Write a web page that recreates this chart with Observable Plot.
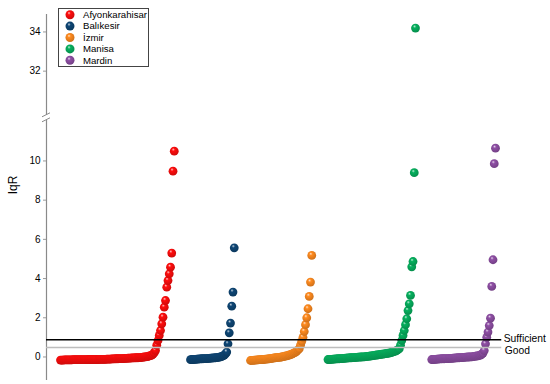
<!DOCTYPE html>
<html>
<head>
<meta charset="utf-8">
<script src="https://cdn.jsdelivr.net/npm/d3@7"></script>
<script src="https://cdn.jsdelivr.net/npm/@observablehq/plot@0.6"></script>
<style>
  html, body { margin: 0; padding: 0; background: #fff; }
  #chart { width: 550px; height: 384px; }
</style>
</head>
<body>
<div id="chart"></div>
<script>
// ---------- data ----------
const categories = ["Afyonkarahisar", "Balıkesir", "İzmir", "Manisa", "Mardin"];
const colors = ["#ff0d0d", "#0e4675", "#ff8b1f", "#06b05e", "#8f4fa5"];

const afyonkarahisar = [
  -0.16,-0.16,-0.16,-0.15,-0.15,-0.15,-0.15,-0.15,-0.15,-0.15,
  -0.14,-0.14,-0.14,-0.14,-0.14,-0.14,-0.14,-0.14,-0.14,-0.14,
  -0.14,-0.14,-0.13,-0.13,-0.13,-0.13,-0.13,-0.13,-0.13,-0.13,
  -0.13,-0.12,-0.12,-0.12,-0.12,-0.12,-0.12,-0.11,-0.11,-0.11,
  -0.11,-0.10,-0.10,-0.10,-0.09,-0.09,-0.09,-0.08,-0.08,-0.08,
  -0.08,-0.07,-0.07,-0.07,-0.06,-0.06,-0.06,-0.05,-0.05,-0.05,
  -0.04,-0.04,-0.04,-0.03,-0.03,-0.02,-0.01,0.00,0.01,0.02,
  0.03,0.05,0.07,0.09,0.14,0.22,
  0.33,0.6,0.84,1.1,1.35,1.69,2.03,2.54,2.88,3.56,3.9,4.24,4.58,5.3,9.48,10.5
];
const balikesir = [
  -0.14,-0.13,-0.13,-0.12,-0.12,-0.11,-0.11,-0.10,-0.10,-0.09,
  -0.09,-0.08,-0.08,-0.08,-0.07,-0.07,-0.06,-0.06,-0.05,-0.05,
  -0.04,-0.03,-0.02,-0.01,0.01,0.03,0.06,0.10,0.16,
  0.25,0.67,1.23,1.73,2.59,3.31,5.57
];
const izmir = [
  -0.18,-0.17,-0.17,-0.16,-0.16,-0.15,-0.15,-0.14,-0.14,-0.13,
  -0.13,-0.12,-0.11,-0.11,-0.10,-0.09,-0.08,-0.07,-0.06,-0.05,
  -0.04,-0.03,-0.02,-0.02,-0.01,0.00,0.02,0.03,0.05,0.06,
  0.08,0.10,0.12,0.15,0.18,0.21,0.25,0.30,0.36,
  0.42,0.6,0.8,1.0,1.3,1.65,2.0,2.46,3.09,3.82,5.18
];
const manisa = [
  -0.13,-0.13,-0.12,-0.12,-0.11,-0.11,-0.10,-0.10,-0.09,-0.09,
  -0.08,-0.08,-0.07,-0.07,-0.06,-0.06,-0.05,-0.05,-0.04,-0.04,
  -0.03,-0.03,-0.02,-0.02,-0.01,-0.01,0.00,0.00,0.01,0.01,
  0.02,0.03,0.03,0.04,0.05,0.06,0.07,0.08,0.09,0.10,
  0.11,0.12,0.13,0.14,0.15,0.16,0.17,0.18,0.19,0.20,
  0.22,0.24,0.26,0.28,0.30,0.33,0.37,
  0.42,0.6,0.84,1.1,1.35,1.65,1.95,2.37,2.71,3.14,4.6,4.87,9.4,34.2
];
const mardin = [
  -0.13,-0.13,-0.12,-0.12,-0.11,-0.11,-0.10,-0.10,-0.09,-0.09,
  -0.09,-0.08,-0.08,-0.08,-0.07,-0.07,-0.07,-0.06,-0.06,-0.05,
  -0.05,-0.04,-0.04,-0.03,-0.03,-0.02,-0.02,-0.01,-0.01,0.00,
  0.00,0.01,0.01,0.02,0.03,0.04,0.05,0.06,0.08,0.10,
  0.14,0.2,
  0.33,0.67,1.0,1.27,1.6,1.98,3.6,4.96,9.86,10.65
];
const series = [afyonkarahisar, balikesir, izmir, manisa, mardin];

const yTickValues = [0, 2, 4, 6, 8, 10, 32, 34];
const thresholds = [
  {label: "Sufficient", value: 0.88},
  {label: "Good", value: 0.48}
];

// ---------- broken y axis transform ----------
const BREAK_AT = 20;        // values above this sit in the upper panel
const BREAK_SHIFT = 17.42;  // amount removed from upper-panel values
const BREAK_POS = 12.2;     // transformed position of the break marks
const tr = v => v > BREAK_AT ? v - BREAK_SHIFT : v;
const untr = t => t > BREAK_POS ? Math.round(t + BREAK_SHIFT) : Math.round(t);

// ---------- build rows (x = running rank, with a gap between groups) ----------
const GAP = 13;
const rows = [];
let pos = 0;
series.forEach((vals, g) => {
  vals.forEach((v, i) => rows.push({group: categories[g], g, x: pos + i, value: v, y: tr(v)}));
  pos += vals.length - 1 + GAP;
});
const lastX = d3.max(rows, d => d.x);

const xDomain = [-11.2, 392];
const yDomain = [-1.2, 17.47];
const font = "'Liberation Sans', Arial, Helvetica, sans-serif";

const chart = Plot.plot({
  width: 550,
  height: 384,
  marginLeft: 46,
  marginRight: 0,
  marginTop: 14,
  marginBottom: 4,
  style: {fontFamily: font, fontSize: "10px", background: "#fff", color: "#000"},
  x: {domain: xDomain, axis: null},
  y: {domain: yDomain, axis: null},
  marks: [
    Plot.ruleX([xDomain[0]], {y1: yDomain[0], y2: BREAK_POS - 0.12, stroke: "#8a8a8a", strokeWidth: 1.2}),
    Plot.ruleX([xDomain[0]], {y1: BREAK_POS + 0.12, y2: yDomain[1], stroke: "#8a8a8a", strokeWidth: 1.2}),
    Plot.axisY(yTickValues.map(tr), {
      tickSize: 3, tickPadding: 3, stroke: "#9a9a9a", fill: "#000",
      tickFormat: d => String(untr(d)), fontSize: 10
    }),
    ...series.map((vals, g) => Plot.dot(rows.filter(d => d.g === g), {
      x: "x", y: "y", r: 4.4, fill: `url(#sph${g})`, stroke: "none"
    })),
    Plot.ruleY([thresholds[1]], {y: "value", x1: xDomain[0], x2: lastX + 5, stroke: "#bdbdbd", strokeWidth: 1.6}),
    Plot.ruleY([thresholds[0]], {y: "value", x1: xDomain[0], x2: lastX + 5, stroke: "#000", strokeWidth: 1.6}),
    Plot.text([thresholds[0]], {x: lastX + 5, y: "value", text: "label", textAnchor: "start", dx: 2, dy: -1, fontSize: 10.3, fill: "#000"}),
    Plot.text([thresholds[1]], {x: lastX + 5, y: "value", text: "label", textAnchor: "start", dx: 3, dy: 3, fontSize: 10.3, fill: "#000"})
  ]
});
document.getElementById("chart").appendChild(chart);

// ---------- decorations: gradients, break marks, y label, legend ----------
const svg = d3.select(chart);
const defs = svg.insert("defs", ":first-child");
colors.forEach((c, g) => {
  const base = d3.color(c);
  const grad = defs.append("radialGradient")
    .attr("id", `sph${g}`).attr("cx", "45%").attr("cy", "40%").attr("r", "60%")
    .attr("fx", "38%").attr("fy", "30%");
  grad.append("stop").attr("offset", "0%").attr("stop-color", d3.interpolateRgb(c, "#fff")(0.75));
  grad.append("stop").attr("offset", "30%").attr("stop-color", c);
  grad.append("stop").attr("offset", "100%").attr("stop-color", base.darker(0.6).formatHex());
});

const ys = chart.scale("y");
const xs = chart.scale("x");
const ax = xs.apply(xDomain[0]);
const by = ys.apply(BREAK_POS);
[-2.5, 2.5].forEach(o => {
  svg.append("line")
    .attr("x1", ax - 4).attr("y1", by + o + 2)
    .attr("x2", ax + 4).attr("y2", by + o - 2)
    .attr("stroke", "#8a8a8a").attr("stroke-width", 1);
});

svg.append("text")
  .attr("transform", `translate(17,185) rotate(-90)`)
  .attr("text-anchor", "middle")
  .attr("font-family", font).attr("font-size", 12).attr("fill", "#000")
  .text("IqR");

const lg = svg.append("g").attr("text-anchor", "start");
lg.append("rect").attr("x", 58.5).attr("y", 8.5).attr("width", 90).attr("height", 58)
  .attr("fill", "#fff").attr("stroke", "#444").attr("stroke-width", 1);
categories.forEach((name, g) => {
  const cy = 14.7 + g * 11.4;
  lg.append("circle").attr("cx", 70).attr("cy", cy).attr("r", 4.5).attr("fill", `url(#sph${g})`);
  lg.append("text").attr("x", 83).attr("y", cy).attr("dy", "0.35em")
    .attr("text-anchor", "start")
    .attr("font-family", font).attr("font-size", 9.6).attr("fill", "#000").text(name);
});
</script>
</body>
</html>
